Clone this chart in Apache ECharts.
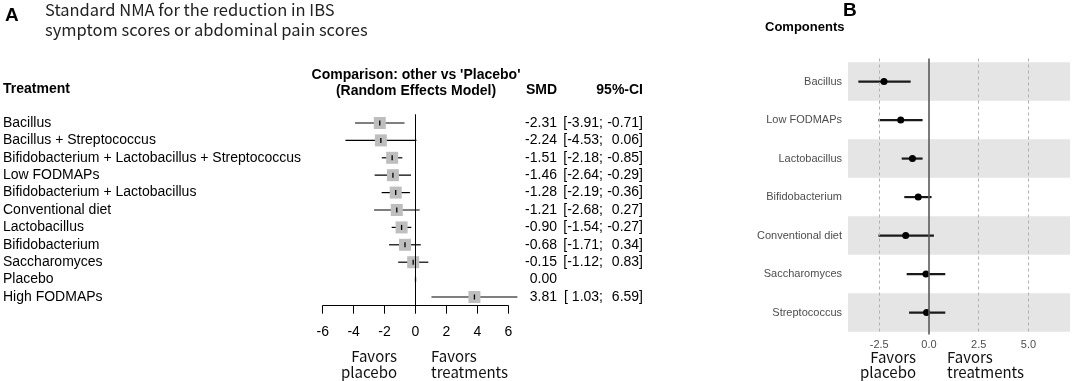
<!DOCTYPE html>
<html>
<head>
<meta charset="utf-8">
<script src="https://cdn.jsdelivr.net/npm/echarts@6/dist/echarts.min.js"></script>
<style>
html, body { margin: 0; padding: 0; background: #fff; }
#main { width: 1072px; height: 381px; }
</style>
</head>
<body>
<div id="main"></div>
<script>
// A: standard NMA, other vs placebo
var treatments = ['Bacillus', 'Bacillus + Streptococcus', 'Bifidobacterium + Lactobacillus + Streptococcus',
  'Low FODMAPs', 'Bifidobacterium + Lactobacillus', 'Conventional diet', 'Lactobacillus',
  'Bifidobacterium', 'Saccharomyces', 'Placebo', 'High FODMAPs'];
var smd = [-2.31, -2.24, -1.51, -1.46, -1.28, -1.21, -0.90, -0.68, -0.15, 0.00, 3.81];
var ciLow = [-3.91, -4.53, -2.18, -2.64, -2.19, -2.68, -1.54, -1.71, -1.12, null, 1.03];
var ciHigh = [-0.71, 0.06, -0.85, -0.29, -0.36, 0.27, -0.27, 0.34, 0.83, null, 6.59];

// B: components
var components = ['Bacillus', 'Low FODMAPs', 'Lactobacillus', 'Bifidobacterium',
  'Conventional diet', 'Saccharomyces', 'Streptococcus'];
var compEst = [-2.26, -1.42, -0.83, -0.54, -1.17, -0.15, -0.12];
var compLow = [-3.55, -2.54, -1.37, -1.24, -2.54, -1.12, -1.00];
var compHigh = [-0.92, -0.32, -0.32, 0.13, 0.25, 0.82, 0.82];
var compTicks = [-2.5, 0, 2.5, 5];

function pad(v) { return (v < 0 ? '' : ' ') + v.toFixed(2); }

var chart = echarts.init(document.getElementById('main'));

var cjk = 'Noto Sans CJK SC';

// estimate + CI text, drawn as rich label of a right side axis
function ciLabel(value, index) {
  var s = '{a|' + smd[index].toFixed(2) + '}';
  if (ciLow[index] != null) {
    s += '{b|[' + pad(ciLow[index]) + ';}{c|' + pad(ciHigh[index]) + ']}';
  }
  return s;
}

function segment(params, api) {
  var y = api.value(1);
  var p1 = api.coord([api.value(0), y]);
  var p2 = api.coord([api.value(2), y]);
  return { type: 'line', shape: { x1: p1[0], y1: p1[1], x2: p2[0], y2: p2[1] },
    style: { stroke: api.visual('color'), lineWidth: params.seriesIndex === 0 ? 1.2 : 2.2 } };
}

option = {
  animation: false,
  textStyle: { fontFamily: 'Liberation Sans' },
  grid: [
    { left: 322.7, right: 1072 - 508.3, top: 114.3, bottom: 75.3 },
    { left: 848, right: 2, top: 58.5, bottom: 46.5 }
  ],
  xAxis: [
    {
      type: 'value', gridIndex: 0, min: -6, max: 6, interval: 2,
      axisLine: { show: true, onZero: false, lineStyle: { color: '#000', width: 1 } },
      axisTick: { show: true, length: 8, lineStyle: { color: '#000', width: 1 } },
      axisLabel: { fontSize: 14, color: '#000', margin: 19 },
      splitLine: { show: false }
    },
    {
      type: 'value', gridIndex: 1, min: -4.07, max: 7.09,
      axisLine: { show: false }, axisTick: { show: false }, splitLine: { show: false },
      axisLabel: {
        customValues: compTicks, fontSize: 11, color: '#4d4d4d', margin: 5,
        formatter: function (v) { return v.toFixed(1); }
      }
    }
  ],
  yAxis: [
    {
      type: 'category', gridIndex: 0, data: treatments, inverse: true,
      axisLine: { show: false }, axisTick: { show: false },
      axisLabel: { interval: 0, align: 'left', margin: 319.7, fontSize: 14, color: '#000' }
    },
    {
      type: 'category', gridIndex: 0, data: treatments, inverse: true, position: 'right',
      axisLine: { show: false }, axisTick: { show: false },
      axisLabel: {
        interval: 0, align: 'left', margin: 8, formatter: ciLabel,
        rich: {
          a: { width: 40.7, align: 'right', fontSize: 14, color: '#000' },
          b: { width: 46, align: 'right', fontSize: 14, color: '#000' },
          c: { width: 40, align: 'right', fontSize: 14, color: '#000' }
        }
      }
    },
    {
      type: 'value', gridIndex: 1, inverse: true, min: -0.6, max: 6.57,
      axisLine: { show: false }, axisTick: { show: false }, splitLine: { show: false },
      axisLabel: {
        customValues: [0, 1, 2, 3, 4, 5, 6], fontSize: 11, color: '#4d4d4d', margin: 6,
        formatter: function (v) { return components[v]; }
      }
    }
  ],
  graphic: [
    { type: 'text', left: 5, top: 6, style: { text: 'A', font: 'bold 19px "Liberation Sans"', fill: '#000' } },
    { type: 'text', left: 45, top: 0, style: {
        text: 'Standard NMA for the reduction in IBS\nsymptom scores or abdominal pain scores',
        font: '16.5px "' + cjk + '"', lineHeight: 20, fill: '#222' } },
    { type: 'text', left: 3, top: 82, style: { text: 'Treatment', font: 'bold 14px "Liberation Sans"', fill: '#000' } },
    { type: 'text', x: 416, y: 67, style: {
        text: "Comparison: other vs 'Placebo'\n(Random Effects Model)", align: 'center',
        font: 'bold 14px "Liberation Sans"', lineHeight: 16, fill: '#000' } },
    { type: 'text', x: 557, y: 83, style: { text: 'SMD', align: 'right', font: 'bold 14px "Liberation Sans"', fill: '#000' } },
    { type: 'text', x: 643, y: 83, style: { text: '95%-CI', align: 'right', font: 'bold 14px "Liberation Sans"', fill: '#000' } },
    { type: 'text', x: 397, y: 348, style: { text: 'Favors\nplacebo', align: 'right', font: '15px "' + cjk + '"', lineHeight: 16, fill: '#111' } },
    { type: 'text', x: 431, y: 348, style: { text: 'Favors\ntreatments', align: 'left', font: '15px "' + cjk + '"', lineHeight: 16, fill: '#111' } },
    { type: 'text', left: 843, top: 1, style: { text: 'B', font: 'bold 19px "Liberation Sans"', fill: '#000' } },
    { type: 'text', left: 765, top: 21, style: { text: 'Components', font: 'bold 13px "Liberation Sans"', fill: '#000' } },
    { type: 'text', x: 916, y: 350, style: { text: 'Favors\nplacebo', align: 'right', font: '15px "' + cjk + '"', lineHeight: 15, fill: '#111' } },
    { type: 'text', x: 947, y: 350, style: { text: 'Favors\ntreatments', align: 'left', font: '15px "' + cjk + '"', lineHeight: 15, fill: '#111' } }
  ],
  series: [
    // A: confidence intervals + zero line
    {
      type: 'custom', xAxisIndex: 0, yAxisIndex: 0, z: 2,
      itemStyle: { color: '#000' },
      renderItem: segment,
      data: treatments.map(function (t, i) { return [ciLow[i], i, ciHigh[i]]; })
        .filter(function (d) { return d[0] != null; }),
      markLine: {
        silent: true, symbol: 'none', label: { show: false },
        lineStyle: { color: '#000', width: 1, type: 'solid' },
        data: [{ xAxis: 0 }]
      }
    },
    {
      type: 'scatter', xAxisIndex: 0, yAxisIndex: 0, z: 3,
      symbol: 'rect', symbolSize: 12,
      itemStyle: { color: '#bebebe', opacity: 1 },
      data: treatments.map(function (t, i) { return [smd[i], i]; })
        .filter(function (d, i) { return ciLow[i] != null; })
    },
    {
      type: 'custom', xAxisIndex: 0, yAxisIndex: 0, z: 4,
      data: smd.map(function (v, i) { return [v, i]; }),
      renderItem: function (params, api) {
        var p = api.coord([api.value(0), api.value(1)]);
        return { type: 'line', shape: { x1: p[0], y1: p[1] - 2.5, x2: p[0], y2: p[1] + 2.5 },
          style: { stroke: '#000', lineWidth: 1.3 } };
      }
    },
    // B: grey bands + reference lines
    {
      type: 'custom', xAxisIndex: 1, yAxisIndex: 2, z: 1,
      data: components.map(function (c, i) { return [0, i]; })
        .filter(function (d) { return d[1] % 2 === 0; }),
      renderItem: function (params, api) {
        var cs = params.coordSys;
        var top = api.coord([0, api.value(1) - 0.5])[1];
        var bot = api.coord([0, api.value(1) + 0.5])[1];
        return { type: 'rect', shape: { x: cs.x, y: top, width: cs.width, height: bot - top },
          style: { fill: '#e5e5e5' } };
      },
      markLine: {
        silent: true, symbol: 'none', label: { show: false },
        data: compTicks.map(function (v) {
          return v === 0
            ? { xAxis: v, lineStyle: { color: '#5a5a5a', width: 1.6, type: 'solid' } }
            : { xAxis: v, lineStyle: { color: '#b0b0b0', width: 1, type: [3, 3] } };
        })
      }
    },
    {
      type: 'custom', xAxisIndex: 1, yAxisIndex: 2, z: 3,
      itemStyle: { color: '#1a1a1a' },
      renderItem: segment,
      data: components.map(function (c, i) { return [compLow[i], i, compHigh[i]]; })
    },
    {
      type: 'scatter', xAxisIndex: 1, yAxisIndex: 2, z: 4,
      symbol: 'circle', symbolSize: 7,
      itemStyle: { color: '#000', opacity: 1 },
      data: components.map(function (c, i) { return [compEst[i], i]; })
    }
  ]
};

chart.setOption(option);
</script>
</body>
</html>
